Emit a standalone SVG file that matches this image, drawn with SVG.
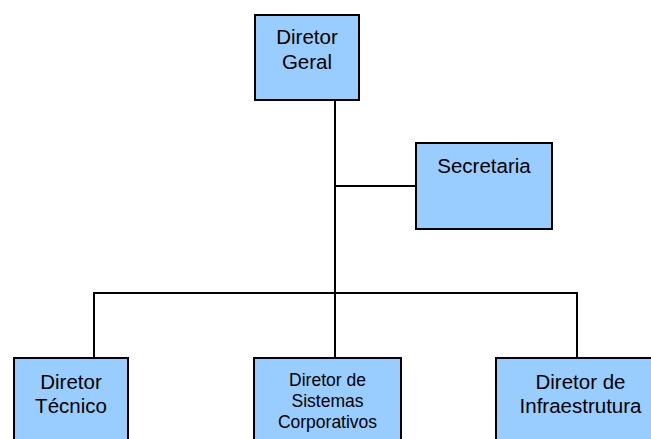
<svg xmlns="http://www.w3.org/2000/svg" width="651" height="439" viewBox="0 0 651 439">
<style>
.box{fill:#99CCFF;stroke:#000;stroke-width:2}
.t{font-family:"Liberation Sans",Arial,sans-serif;font-size:20.5px;fill:#000;text-anchor:middle}
.s{font-size:17.5px}
.c{fill:none;stroke:#000;stroke-width:2}
</style>
<rect width="651" height="439" fill="#fff"/>
<g id="connectors">
<path class="c" d="M335,100 V358"/>
<path class="c" d="M335,186 H416"/>
<path class="c" d="M94,358 V293 H577 V358"/>
</g>
<g id="diretor-geral">
<rect class="box" x="255" y="15" width="104" height="85"/>
<text class="t" x="307" y="44">Diretor</text>
<text class="t" x="307" y="69">Geral</text>
</g>
<g id="secretaria">
<rect class="box" x="416" y="143" width="136" height="86"/>
<text class="t" x="484" y="173">Secretaria</text>
</g>
<g id="diretor-tecnico">
<rect class="box" x="14" y="358" width="114" height="90"/>
<text class="t" x="71" y="389">Diretor</text>
<text class="t" x="71" y="413">Técnico</text>
</g>
<g id="diretor-sistemas">
<rect class="box" x="254" y="358" width="147" height="90"/>
<text class="t s" x="327.5" y="386">Diretor de</text>
<text class="t s" x="327.5" y="407">Sistemas</text>
<text class="t s" x="327.5" y="428">Corporativos</text>
</g>
<g id="diretor-infraestrutura">
<rect class="box" x="496" y="358" width="168" height="90"/>
<text class="t" x="580.5" y="389">Diretor de</text>
<text class="t" x="580.5" y="413">Infraestrutura</text>
</g>
</svg>
